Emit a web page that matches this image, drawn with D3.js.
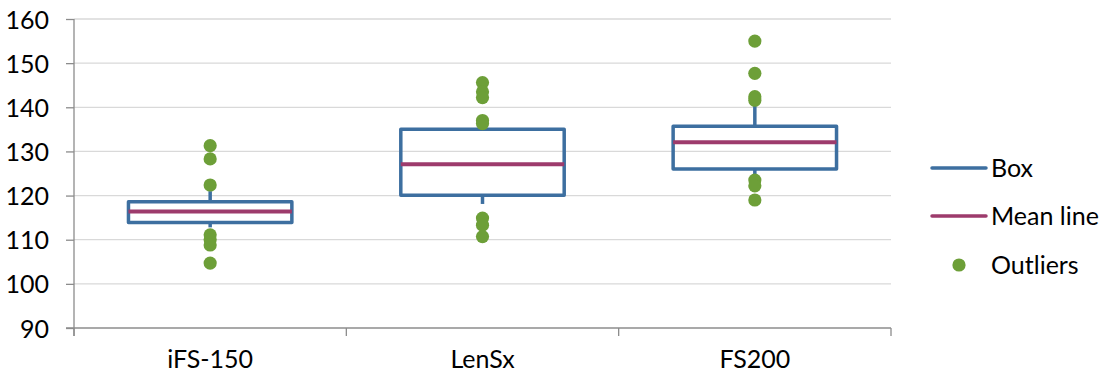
<!DOCTYPE html>
<html>
<head>
<meta charset="utf-8">
<script src="https://cdn.jsdelivr.net/npm/d3@7"></script>
<style>
  html, body { margin: 0; padding: 0; background: #ffffff; }
  svg { display: block; font-family: Lato, "Open Sans", sans-serif; }
</style>
</head>
<body>
<svg id="chart" width="1103" height="379"></svg>
<script>
// Box plot summary per device
const categories = ["iFS-150", "LenSx", "FS200"];
const q1 = [113.9, 120.1, 126.0];
const q3 = [118.6, 135.0, 135.7];
const meanValues = [116.4, 127.1, 132.1];
const whiskerLow = [112.8, 118.1, 124.4];
const whiskerHigh = [121.0, 135.9, 140.6];
const outliers = [
  [131.3, 128.3, 122.4, 111.1, 110.0, 108.8, 104.7],
  [145.6, 143.5, 142.2, 137.0, 136.3, 114.9, 113.3, 110.7],
  [155.0, 147.7, 142.4, 141.6, 123.5, 122.2, 119.0]
];
const yTicks = [90, 100, 110, 120, 130, 140, 150, 160];
const legendItems = ["Box", "Mean line", "Outliers"];

const colors = { box: "#3d6fa0", mean: "#9d3b6c", outlier: "#6d9f38", grid: "#d9d9d9", axis: "#8c8c8c" };

const svg = d3.select("#chart");
const plotLeft = 74, plotRight = 891, plotTop = 19, plotBottom = 328;

const x = d3.scaleBand().domain(categories).range([plotLeft, plotRight]);
const y = d3.scaleLinear().domain([90, 160]).range([plotBottom, plotTop]);

// gridlines
svg.append("g").selectAll("line").data(yTicks.slice(1)).join("line")
  .attr("x1", plotLeft).attr("x2", plotRight)
  .attr("y1", d => y(d)).attr("y2", d => y(d))
  .attr("stroke", colors.grid).attr("stroke-width", 1.3);

// y axis
const yAxis = svg.append("g").attr("transform", `translate(${plotLeft},0)`)
  .call(d3.axisLeft(y).tickValues(yTicks).tickSize(8).tickPadding(17).tickSizeOuter(0));
yAxis.select(".domain").remove();
yAxis.selectAll(".tick line").attr("stroke", colors.axis).attr("stroke-width", 1.3);
yAxis.selectAll(".tick text").attr("fill", "#000").style("font-size", "25px")
  .style("font-family", "Lato, sans-serif").attr("dy", "0.36em");
svg.append("line").attr("x1", plotLeft).attr("x2", plotLeft).attr("y1", plotTop).attr("y2", plotBottom + 8)
  .attr("stroke", colors.axis).attr("stroke-width", 1.3);

// x axis
svg.append("line").attr("x1", plotLeft - 8).attr("x2", plotRight).attr("y1", plotBottom).attr("y2", plotBottom)
  .attr("stroke", colors.axis).attr("stroke-width", 1.3);
const edges = categories.map(c => x(c)).concat([x(categories[categories.length - 1]) + x.bandwidth()]);
svg.append("g").selectAll("line").data(edges).join("line")
  .attr("x1", d => d).attr("x2", d => d).attr("y1", plotBottom).attr("y2", plotBottom + 8)
  .attr("stroke", colors.axis).attr("stroke-width", 1.3);
const xAxis = svg.append("g").attr("transform", `translate(0,${plotBottom})`)
  .call(d3.axisBottom(x).tickSize(0).tickPadding(22));
xAxis.select(".domain").remove();
xAxis.selectAll(".tick text").attr("fill", "#000").style("font-size", "25px")
  .style("font-family", "Lato, sans-serif");

// boxes
const boxW = x.bandwidth() * 0.6;
const cx = i => x(categories[i]) + x.bandwidth() / 2;
const g = svg.append("g");
categories.forEach((c, i) => {
  const xc = cx(i);
  // whiskers
  g.append("line").attr("x1", xc).attr("x2", xc).attr("y1", y(q3[i])).attr("y2", y(whiskerHigh[i]))
    .attr("stroke", colors.box).attr("stroke-width", 3.5);
  g.append("line").attr("x1", xc).attr("x2", xc).attr("y1", y(q1[i])).attr("y2", y(whiskerLow[i]))
    .attr("stroke", colors.box).attr("stroke-width", 3.5);
  // box
  g.append("rect").attr("x", xc - boxW / 2).attr("width", boxW)
    .attr("y", y(q3[i])).attr("height", y(q1[i]) - y(q3[i]))
    .attr("fill", "none").attr("stroke", colors.box).attr("stroke-width", 3.5)
    .attr("stroke-linejoin", "round");
  // mean line
  g.append("line").attr("x1", xc - boxW / 2).attr("x2", xc + boxW / 2)
    .attr("y1", y(meanValues[i])).attr("y2", y(meanValues[i]))
    .attr("stroke", colors.mean).attr("stroke-width", 4);
  // outliers
  g.selectAll(null).data(outliers[i]).join("circle")
    .attr("cx", xc).attr("cy", d => y(d)).attr("r", 6.6)
    .attr("fill", colors.outlier);
});

// legend
const lg = svg.append("g");
const lx1 = 932, lx2 = 986, ly = [168, 216, 265];
lg.append("line").attr("x1", lx1).attr("x2", lx2).attr("y1", ly[0]).attr("y2", ly[0])
  .attr("stroke", colors.box).attr("stroke-width", 3.5).attr("stroke-linecap", "round");
lg.append("line").attr("x1", lx1).attr("x2", lx2).attr("y1", ly[1]).attr("y2", ly[1])
  .attr("stroke", colors.mean).attr("stroke-width", 3.5).attr("stroke-linecap", "round");
lg.append("circle").attr("cx", (lx1 + lx2) / 2).attr("cy", ly[2]).attr("r", 6.6).attr("fill", colors.outlier);
lg.selectAll("text").data(legendItems).join("text")
  .attr("x", 991).attr("y", (d, i) => ly[i]).attr("dy", "0.36em")
  .style("font-size", "25px").style("font-family", "Lato, sans-serif").attr("fill", "#000")
  .text(d => d);
</script>
</body>
</html>
